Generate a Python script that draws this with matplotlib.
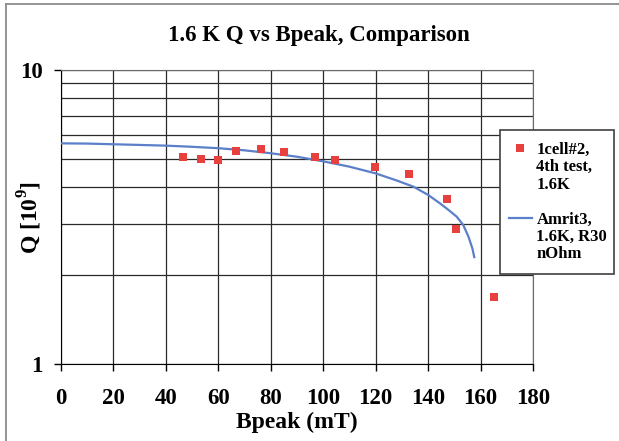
import matplotlib
matplotlib.use("Agg")
import matplotlib.pyplot as plt
from matplotlib.lines import Line2D
from matplotlib.patches import Rectangle
from matplotlib.ticker import FixedLocator, NullFormatter, NullLocator

plt.rcParams["font.family"] = ["Liberation Serif", "DejaVu Serif"]
plt.rcParams["font.weight"] = "bold"
plt.rcParams["mathtext.fontset"] = "custom"
plt.rcParams["mathtext.rm"] = "Liberation Serif:bold"
plt.rcParams["mathtext.bf"] = "Liberation Serif:bold"

# 1cell#2, 4th test at 1.6 K
test_b = [46.4, 53.2, 59.7, 66.8, 76.3, 84.9, 96.8, 104.4, 119.9, 132.6, 147.3, 150.8, 165.3]
test_q = [5.07, 4.99, 4.94, 5.29, 5.40, 5.25, 5.07, 4.95, 4.68, 4.42, 3.63, 2.87, 1.69]

# Amrit3 model curve, 1.6 K, R = 30 nOhm
model_b = [0, 10, 20, 30, 40, 50, 60, 70, 80, 90, 100, 110, 120, 128, 134.4, 140,
           144.5, 148, 150.9, 153.4, 155.4, 156.9, 157.6]
model_q = [5.63, 5.62, 5.59, 5.56, 5.53, 5.48, 5.42, 5.33, 5.21, 5.07, 4.89, 4.69,
           4.45, 4.21, 4.01, 3.76, 3.52, 3.33, 3.17, 2.97, 2.71, 2.47, 2.31]

x_ticks = [0, 20, 40, 60, 80, 100, 120, 140, 160, 180]

# legend text, one list of lines per series
test_label = ["1cell#2,", "4th test,", "1.6K"]
model_label = ["Amrit3,", "1.6K, R30", "nOhm"]

fig = plt.figure(figsize=(6.19, 4.41), dpi=100)
ax = fig.add_axes([61 / 619, 1 - 364 / 441, 472 / 619, 294 / 441])

ax.plot(model_b, model_q, color="#5b7fc8", lw=1.6, label=model_label[0], zorder=3)
ax.plot(test_b, test_q, ls="none", marker="s", ms=6, color="#e8403f",
        markeredgewidth=0, label=test_label[0], zorder=4)

ax.set_yscale("log")
ax.set_xlim(0, 180)
ax.set_ylim(1, 10)
ax.xaxis.set_major_locator(FixedLocator(x_ticks))
ax.yaxis.set_major_locator(FixedLocator([1, 10]))
ax.yaxis.set_minor_locator(FixedLocator([2, 3, 4, 5, 6, 7, 8, 9]))
ax.yaxis.set_minor_formatter(NullFormatter())
ax.set_yticklabels(["1", "10"])
ax.xaxis.set_minor_locator(NullLocator())

ax.grid(True, which="both", color="#2a2a2a", lw=0.9)
ax.set_axisbelow(True)
ax.tick_params(axis="x", direction="out", length=5, width=1, labelsize=16.5, pad=12)
ax.tick_params(axis="y", which="major", direction="out", length=5, width=1,
               labelsize=16.5, pad=8)
ax.tick_params(axis="y", which="minor", length=0)
for side in ["left", "bottom"]:
    ax.spines[side].set_color("black")
for side in ["top", "right"]:
    ax.spines[side].set_color("#6a6a6a")

ax.set_xlabel("Bpeak (mT)", fontsize=17, fontweight="bold")
ax.xaxis.set_label_coords(0.499, -0.163)
ax.set_ylabel("Q [10$^{\\mathbf{9}}$]", fontsize=17, fontweight="bold")
ax.yaxis.set_label_coords(-0.036, 0.5)

fig.text(319 / 619, 1 - 35 / 441, "1.6 K Q vs Bpeak, Comparison",
         ha="center", va="center", fontsize=16.5, fontweight="bold")

# outer chart frame (left and top edges only)
fig.add_artist(Line2D([6 / 619, 6 / 619], [0, 1 - 4 / 441], transform=fig.transFigure,
                      color="#8c8c8c", lw=1.3))
fig.add_artist(Line2D([6 / 619, 1], [1 - 4 / 441, 1 - 4 / 441], transform=fig.transFigure,
                      color="#8c8c8c", lw=1.3))

# legend box
fig.patches.append(Rectangle((500 / 619, 1 - 274 / 441), 114 / 619, 144 / 441,
                             transform=fig.transFigure, facecolor="white",
                             edgecolor="#404040", lw=1.2, zorder=5))
handles, labels = ax.get_legend_handles_labels()
leg = fig.legend(handles[::-1], labels[::-1], loc="upper left",
                 bbox_to_anchor=(509 / 619, 1 - 142 / 441), frameon=False,
                 fontsize=12, handlelength=1.35, handletextpad=0.3,
                 labelspacing=3.22, borderaxespad=0, borderpad=0)
leg.set_zorder(6)
for t in leg.get_texts():
    t.set_fontweight("bold")

# remaining lines of each legend label, stacked under the first line
fig.canvas.draw()
line_step = 17.3
for t, lines in zip(leg.get_texts(), [test_label, model_label]):
    bb = t.get_window_extent()
    for i, line in enumerate(lines[1:], start=1):
        fig.text(bb.x0, bb.y0 - line_step * i, line, transform=None, ha="left",
                 va="bottom", fontsize=12, fontweight="bold", zorder=7)

fig.savefig("out.png", dpi=100)
